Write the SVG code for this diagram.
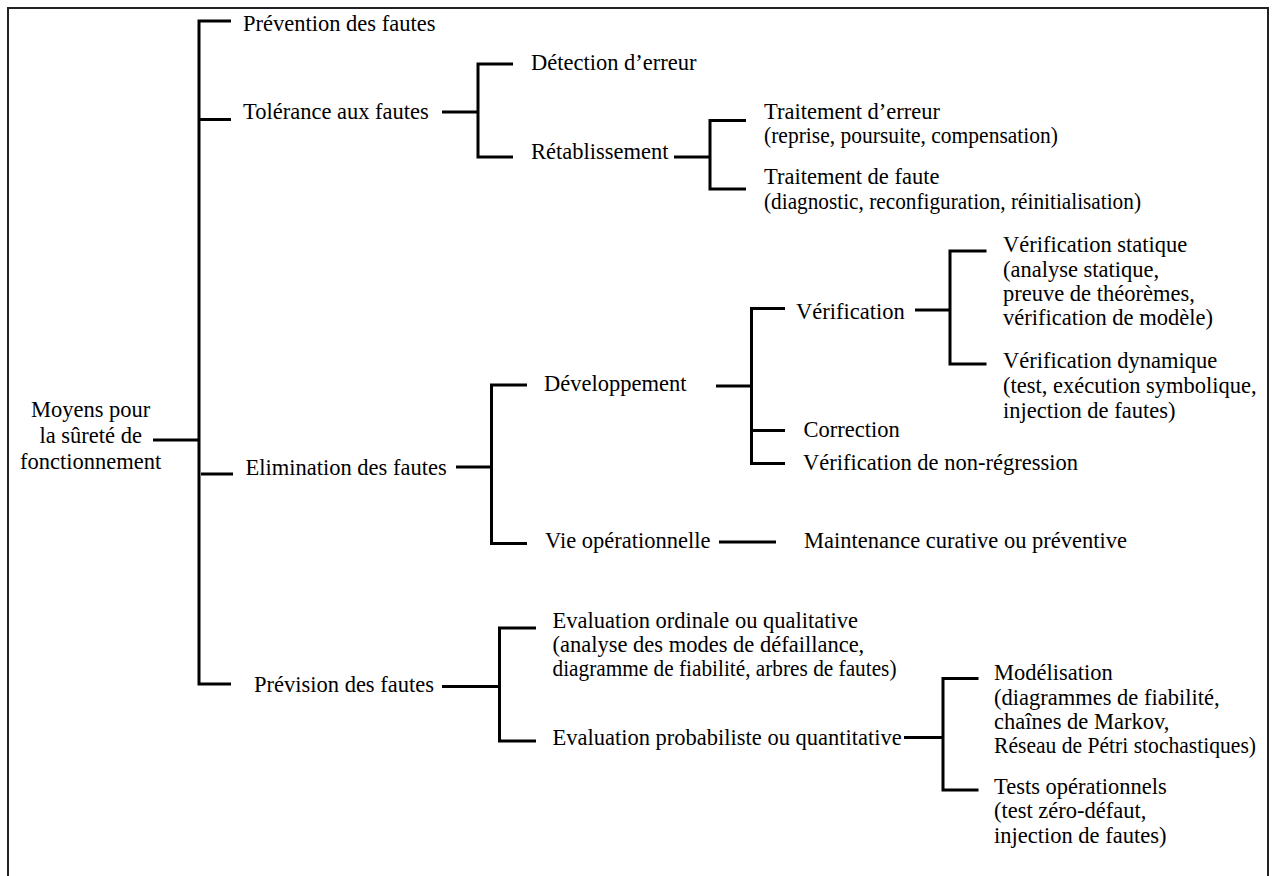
<svg xmlns="http://www.w3.org/2000/svg" width="1272" height="876" viewBox="0 0 1272 876" font-family="'Liberation Serif', 'Times New Roman', serif">
<style>
text{font-family:'Liberation Serif','Times New Roman',serif;font-size:22.5px;fill:#000}
.c{fill:none;stroke:#000;stroke-width:3;stroke-linecap:butt;stroke-linejoin:miter}
.frame{fill:none;stroke:#222;stroke-width:2}
</style>
<rect class="frame" x="8" y="8" width="1260" height="900"/>
<g id="connectors">
<path class="c" d="M153,440 H199"/>
<path class="c" d="M231,21 H199 V684 H231"/>
<path class="c" d="M199,119.5 H231"/>
<path class="c" d="M201,474 H233"/>
<path class="c" d="M442,112 H478"/>
<path class="c" d="M513,64 H478 V157 H513"/>
<path class="c" d="M674,157 H710"/>
<path class="c" d="M746,120.5 H710 V189 H746"/>
<path class="c" d="M456,467 H491.5"/>
<path class="c" d="M527,385 H491.5 V543.5 H527"/>
<path class="c" d="M716,386 H751.5"/>
<path class="c" d="M785,308.5 H751.5 V463.5 H785"/>
<path class="c" d="M751.5,430.5 H785"/>
<path class="c" d="M915,310 H950"/>
<path class="c" d="M986.5,251 H950 V364 H986.5"/>
<path class="c" d="M719,542 H776"/>
<path class="c" d="M442,686.5 H499.5"/>
<path class="c" d="M536,628 H499.5 V741 H536"/>
<path class="c" d="M904,737.5 H943"/>
<path class="c" d="M978.5,678.5 H943 V790 H978.5"/>
</g>
<g id="n-root" text-anchor="middle">
<text x="90.7" y="417">Moyens pour</text>
<text x="90.7" y="443">la sûreté de</text>
<text x="90.7" y="469">fonctionnement</text>
</g>
<g id="n-prevention"><text x="243" y="31">Prévention des fautes</text></g>
<g id="n-tolerance"><text x="243" y="119">Tolérance aux fautes</text></g>
<g id="n-detection"><text x="531" y="70">Détection d’erreur</text></g>
<g id="n-retablissement"><text x="531" y="159">Rétablissement</text></g>
<g id="n-traitement-erreur">
<text x="764" y="118.5">Traitement d’erreur</text>
<text x="764" y="143" textLength="294" lengthAdjust="spacingAndGlyphs">(reprise, poursuite, compensation)</text>
</g>
<g id="n-traitement-faute">
<text x="764" y="184">Traitement de faute</text>
<text x="764" y="208.5" textLength="377" lengthAdjust="spacingAndGlyphs">(diagnostic, reconfiguration, réinitialisation)</text>
</g>
<g id="n-elimination"><text x="245.5" y="475">Elimination des fautes</text></g>
<g id="n-developpement"><text x="544" y="391">Développement</text></g>
<g id="n-verification"><text x="796" y="319">Vérification</text></g>
<g id="n-verif-statique">
<text x="1003" y="252">Vérification statique</text>
<text x="1003" y="277">(analyse statique,</text>
<text x="1003" y="301">preuve de théorèmes,</text>
<text x="1003" y="325">vérification de modèle)</text>
</g>
<g id="n-verif-dynamique">
<text x="1003" y="368">Vérification dynamique</text>
<text x="1003" y="393">(test, exécution symbolique,</text>
<text x="1003" y="418">injection de fautes)</text>
</g>
<g id="n-correction"><text x="803.5" y="437">Correction</text></g>
<g id="n-non-regression"><text x="803" y="470">Vérification de non-régression</text></g>
<g id="n-vie"><text x="545" y="548">Vie opérationnelle</text></g>
<g id="n-maintenance"><text x="804" y="548">Maintenance curative ou préventive</text></g>
<g id="n-prevision"><text x="254" y="692">Prévision des fautes</text></g>
<g id="n-eval-ordinale">
<text x="552.5" y="628">Evaluation ordinale ou qualitative</text>
<text x="552.5" y="652">(analyse des modes de défaillance,</text>
<text x="552.5" y="676" textLength="344" lengthAdjust="spacingAndGlyphs">diagramme de fiabilité, arbres de fautes)</text>
</g>
<g id="n-eval-proba"><text x="552.5" y="745">Evaluation probabiliste ou quantitative</text></g>
<g id="n-modelisation">
<text x="994" y="680">Modélisation</text>
<text x="994" y="705">(diagrammes de fiabilité,</text>
<text x="994" y="729">chaînes de Markov,</text>
<text x="994" y="753" textLength="262" lengthAdjust="spacingAndGlyphs">Réseau de Pétri stochastiques)</text>
</g>
<g id="n-tests">
<text x="994" y="794">Tests opérationnels</text>
<text x="994" y="818">(test zéro-défaut,</text>
<text x="994" y="843">injection de fautes)</text>
</g>
</svg>
